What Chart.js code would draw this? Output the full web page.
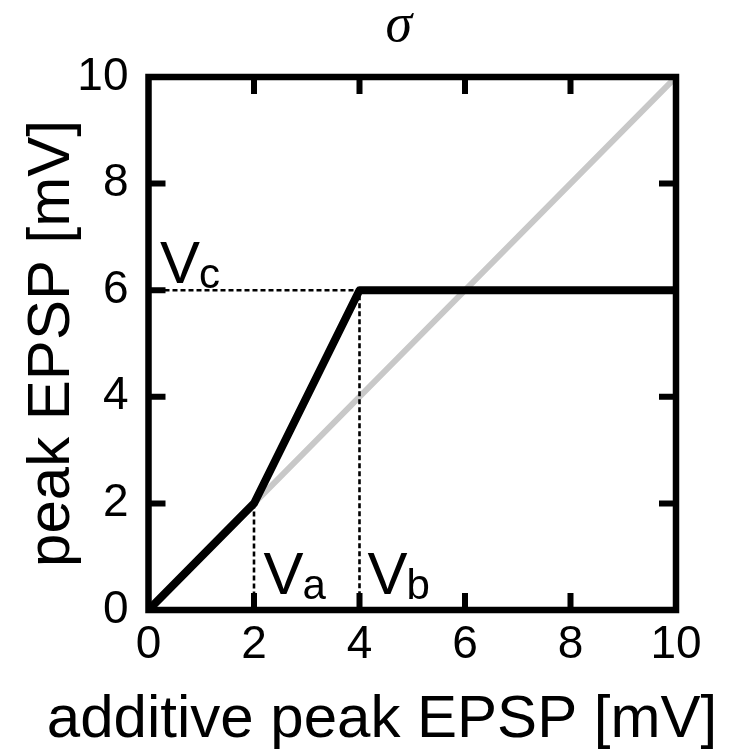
<!DOCTYPE html>
<html>
<head>
<meta charset="utf-8">
<script src="https://cdn.jsdelivr.net/npm/chart.js@4.4.1/dist/chart.umd.min.js"></script>
<style>
  html, body { margin: 0; padding: 0; background: #fff; }
</style>
</head>
<body>
<canvas id="epsp-chart" width="734" height="756"></canvas>
<script>
// piecewise linear response: additive EPSP -> peak EPSP
const additiveEpsp = [0, 2, 4, 10];
const peakEpsp = [0, 2, 6, 6];

// identity line (linear summation)
const identityX = [0, 10];
const identityY = [0, 10];

// dashed guides for Vc / Vb and Va
const guideBX = [0, 4, 4];
const guideBY = [6, 6, 0];
const guideAX = [2, 2];
const guideAY = [2, 0];

const tickValues = [0, 2, 4, 6, 8, 10];
const innerTicks = [2, 4, 6, 8];

// threshold labels, anchored in data units
const thresholdLabels = [
  { main: "V", sub: "c", x: 0.22, y: 6.13 },
  { main: "V", sub: "a", x: 2.18, y: 0.3 },
  { main: "V", sub: "b", x: 4.15, y: 0.3 },
];

const FONT = "Arial, Helvetica, 'Liberation Sans', sans-serif";

function toPoints(xs, ys) {
  return xs.map((x, i) => ({ x, y: ys[i] }));
}

const framePlugin = {
  id: "frame",
  afterDatasetsDraw(chart) {
    const { ctx, chartArea } = chart;
    const { left, right, top, bottom } = chartArea;
    const xs = chart.scales.x;
    const ys = chart.scales.y;
    const len = 17;

    ctx.save();
    ctx.strokeStyle = "#000";
    ctx.lineWidth = 6.5;
    ctx.lineJoin = "miter";
    ctx.strokeRect(left, top, right - left, bottom - top);

    ctx.lineWidth = 6;
    ctx.beginPath();
    innerTicks.forEach((v) => {
      const px = xs.getPixelForValue(v);
      ctx.moveTo(px, bottom);
      ctx.lineTo(px, bottom - len);
      ctx.moveTo(px, top);
      ctx.lineTo(px, top + len);
      const py = ys.getPixelForValue(v);
      ctx.moveTo(left, py);
      ctx.lineTo(left + len, py);
      ctx.moveTo(right, py);
      ctx.lineTo(right - len, py);
    });
    ctx.stroke();

    ctx.fillStyle = "#000";
    ctx.textBaseline = "alphabetic";
    ctx.textAlign = "left";
    thresholdLabels.forEach((lbl) => {
      const px = xs.getPixelForValue(lbl.x);
      const py = ys.getPixelForValue(lbl.y);
      ctx.font = `60px ${FONT}`;
      ctx.fillText(lbl.main, px, py);
      const w = ctx.measureText(lbl.main).width;
      ctx.font = `42px ${FONT}`;
      ctx.fillText(lbl.sub, px + w - 1, py + 5);
    });
    ctx.restore();
  },
};

const chart = new Chart(document.getElementById("epsp-chart"), {
  type: "scatter",
  data: {
    datasets: [
      {
        data: toPoints(identityX, identityY),
        showLine: true,
        borderColor: "#c8c8c8",
        borderWidth: 6,
        borderCapStyle: "round",
        pointRadius: 0,
        order: 3,
      },
      {
        data: toPoints(guideBX, guideBY),
        showLine: true,
        borderColor: "#000",
        borderWidth: 2.6,
        borderDash: [5, 3],
        pointRadius: 0,
        order: 2,
      },
      {
        data: toPoints(guideAX, guideAY),
        showLine: true,
        borderColor: "#000",
        borderWidth: 2.6,
        borderDash: [5, 3],
        pointRadius: 0,
        order: 2,
      },
      {
        data: toPoints(additiveEpsp, peakEpsp),
        showLine: true,
        borderColor: "#000",
        borderWidth: 8,
        borderJoinStyle: "round",
        pointRadius: 0,
        order: 1,
      },
    ],
  },
  options: {
    responsive: false,
    animation: false,
    devicePixelRatio: 1,
    layout: { padding: 0 },
    plugins: {
      legend: { display: false },
      tooltip: { enabled: false },
      title: {
        display: true,
        text: "\u03c3\u2002",
        fullSize: false,
        color: "#000",
        font: { family: "'Liberation Serif', 'DejaVu Serif', serif", size: 54, style: "italic", weight: "normal", lineHeight: 1.0 },
        padding: { top: 0, bottom: 23 },
      },
      // x-axis title drawn as a full-width subtitle so it is not squeezed
      subtitle: {
        display: true,
        position: "bottom",
        fullSize: true,
        text: "\u2002additive peak EPSP [mV]",
        color: "#000",
        font: { family: FONT, size: 60, weight: "normal", lineHeight: 1.2 },
        padding: { top: 0, bottom: 0 },
      },
    },
    scales: {
      x: {
        type: "linear",
        min: 0,
        max: 10,
        afterBuildTicks: (scale) => {
          scale.ticks = tickValues.map((value) => ({ value }));
        },
        afterFit: (scale) => {
          scale.height = 74;
        },
        grid: { display: false },
        border: { display: false },
        ticks: {
          color: "#000",
          padding: 0,
          maxRotation: 0,
          font: { family: FONT, size: 46 },
        },
      },
      y: {
        type: "linear",
        min: 0,
        max: 10,
        afterBuildTicks: (scale) => {
          scale.ticks = tickValues.map((value) => ({ value }));
        },
        afterFit: (scale) => {
          scale.width = 148.5;
        },
        grid: { display: false },
        border: { display: false },
        ticks: {
          color: "#000",
          padding: 12,
          font: { family: FONT, size: 46 },
        },
        title: {
          display: true,
          text: "peak EPSP [mV]",
          color: "#000",
          font: { family: FONT, size: 60, lineHeight: 1.2 },
          padding: { top: 16, bottom: 0 },
        },
      },
      // empty right-hand axis that only reserves the right margin
      yRight: {
        type: "linear",
        position: "right",
        min: 0,
        max: 10,
        afterFit: (scale) => {
          scale.width = 58;
        },
        grid: { display: false },
        border: { display: false },
        ticks: { display: false },
      },
    },
  },
  plugins: [framePlugin],
});
</script>
</body>
</html>
